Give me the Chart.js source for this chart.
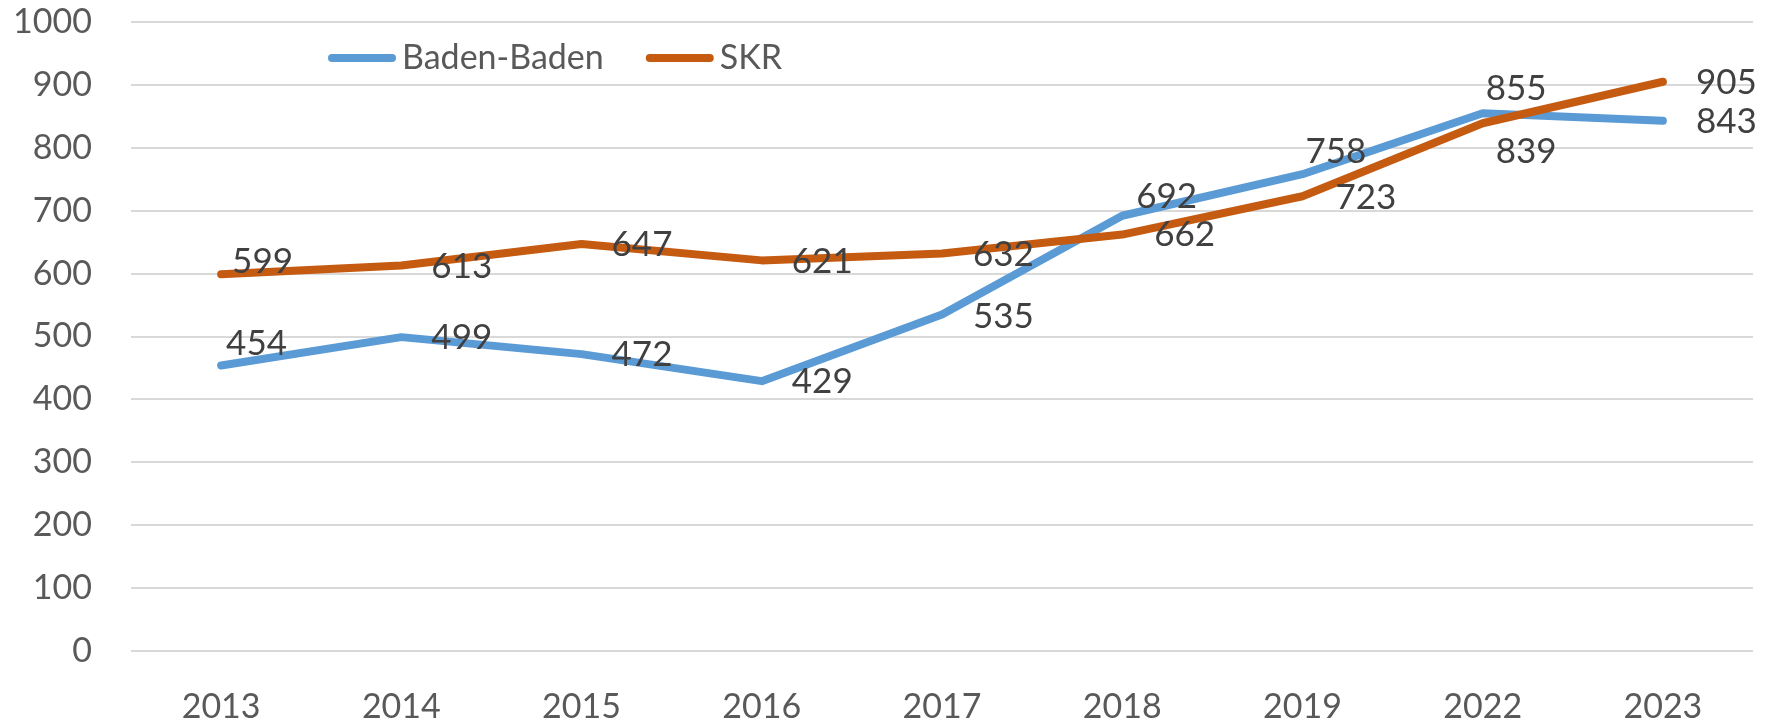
<!DOCTYPE html>
<html>
<head>
<meta charset="utf-8">
<script src="https://cdn.jsdelivr.net/npm/chart.js@4.4.0/dist/chart.umd.min.js"></script>
<style>
  html, body { margin: 0; padding: 0; background: #fff; }
  #chart { display: block; }
</style>
</head>
<body>
<canvas id="chart" width="1775" height="721"></canvas>
<script>
const years = ['2013', '2014', '2015', '2016', '2017', '2018', '2019', '2022', '2023'];
const badenBaden = [454, 499, 472, 429, 535, 692, 758, 855, 843];
const skr = [599, 613, 647, 621, 632, 662, 723, 839, 905];

// label nudges in px, relative to the point (Excel had some labels dragged by hand)
const badenNudge = [[5, -22], [30, 1], [30, 1], [30, 1], [31, 2], [14, -19], [3, -22], [3, -24], [33, 1]];
const skrNudge = [[11, -13], [30, 1], [30, 1], [30, 1], [31, 1], [32, 0], [33, 1], [13, 28], [33, 1]];

const BLUE = '#5b9bd5';
const ORANGE = '#c55a11';
const FONT = 'Lato, "Open Sans", sans-serif';

// value labels next to each point
const valueLabels = {
  id: 'valueLabels',
  afterDatasetsDraw(chart) {
    const ctx = chart.ctx;
    ctx.save();
    ctx.font = '35px ' + FONT;
    ctx.fillStyle = '#404040';
    ctx.textAlign = 'left';
    ctx.textBaseline = 'middle';
    chart.data.datasets.forEach((ds, i) => {
      const meta = chart.getDatasetMeta(i);
      meta.data.forEach((pt, j) => {
        const [dx, dy] = ds.nudge[j];
        ctx.fillText(ds.data[j], pt.x + dx, pt.y + dy);
      });
    });
    ctx.restore();
  }
};

// legend sits inside the plot, top left
const innerLegend = {
  id: 'innerLegend',
  afterDraw(chart) {
    const ctx = chart.ctx;
    ctx.save();
    ctx.font = '34px ' + FONT;
    ctx.textBaseline = 'middle';
    ctx.lineCap = 'round';
    ctx.lineWidth = 8;
    let x = 332;
    const y = 58;
    chart.data.datasets.forEach(ds => {
      ctx.strokeStyle = ds.borderColor;
      ctx.beginPath();
      ctx.moveTo(x, y);
      ctx.lineTo(x + 60, y);
      ctx.stroke();
      ctx.fillStyle = '#595959';
      ctx.fillText(ds.label, x + 70, y);
      x += 70 + ctx.measureText(ds.label).width + 46;
    });
    ctx.restore();
  }
};

function draw() {
  new Chart(document.getElementById('chart'), {
    type: 'line',
    data: {
      labels: years,
      datasets: [
        { label: 'Baden-Baden', data: badenBaden, nudge: badenNudge, borderColor: BLUE, borderWidth: 8, order: 1 },
        { label: 'SKR', data: skr, nudge: skrNudge, borderColor: ORANGE, borderWidth: 8, order: 0 }
      ]
    },
    options: {
      responsive: false,
      animation: false,
      elements: {
        point: { radius: 0, hoverRadius: 0 },
        line: { tension: 0, borderCapStyle: 'round', borderJoinStyle: 'round' }
      },
      layout: { padding: { top: 22, right: 22, left: 0, bottom: 0 } },
      plugins: { legend: { display: false }, tooltip: { enabled: false } },
      scales: {
        x: {
          offset: true,
          grid: { display: false },
          border: { display: false },
          ticks: { color: '#595959', font: { family: FONT, size: 34 }, padding: 28 },
          afterFit(scale) { scale.height = 70; scale.paddingLeft = 0; scale.paddingRight = 0; }
        },
        y: {
          min: 0,
          max: 1000,
          grid: { color: '#d9d9d9', lineWidth: 2, drawTicks: false },
          border: { display: false },
          ticks: {
            stepSize: 100,
            color: '#595959',
            font: { family: FONT, size: 34 },
            padding: 39,
            callback: v => String(v)
          },
          afterFit(scale) { scale.width = 131; scale.paddingTop = 0; scale.paddingBottom = 0; }
        }
      }
    },
    plugins: [valueLabels, innerLegend]
  });
}

document.fonts.load('34px Lato').then(draw, draw);
</script>
</body>
</html>
